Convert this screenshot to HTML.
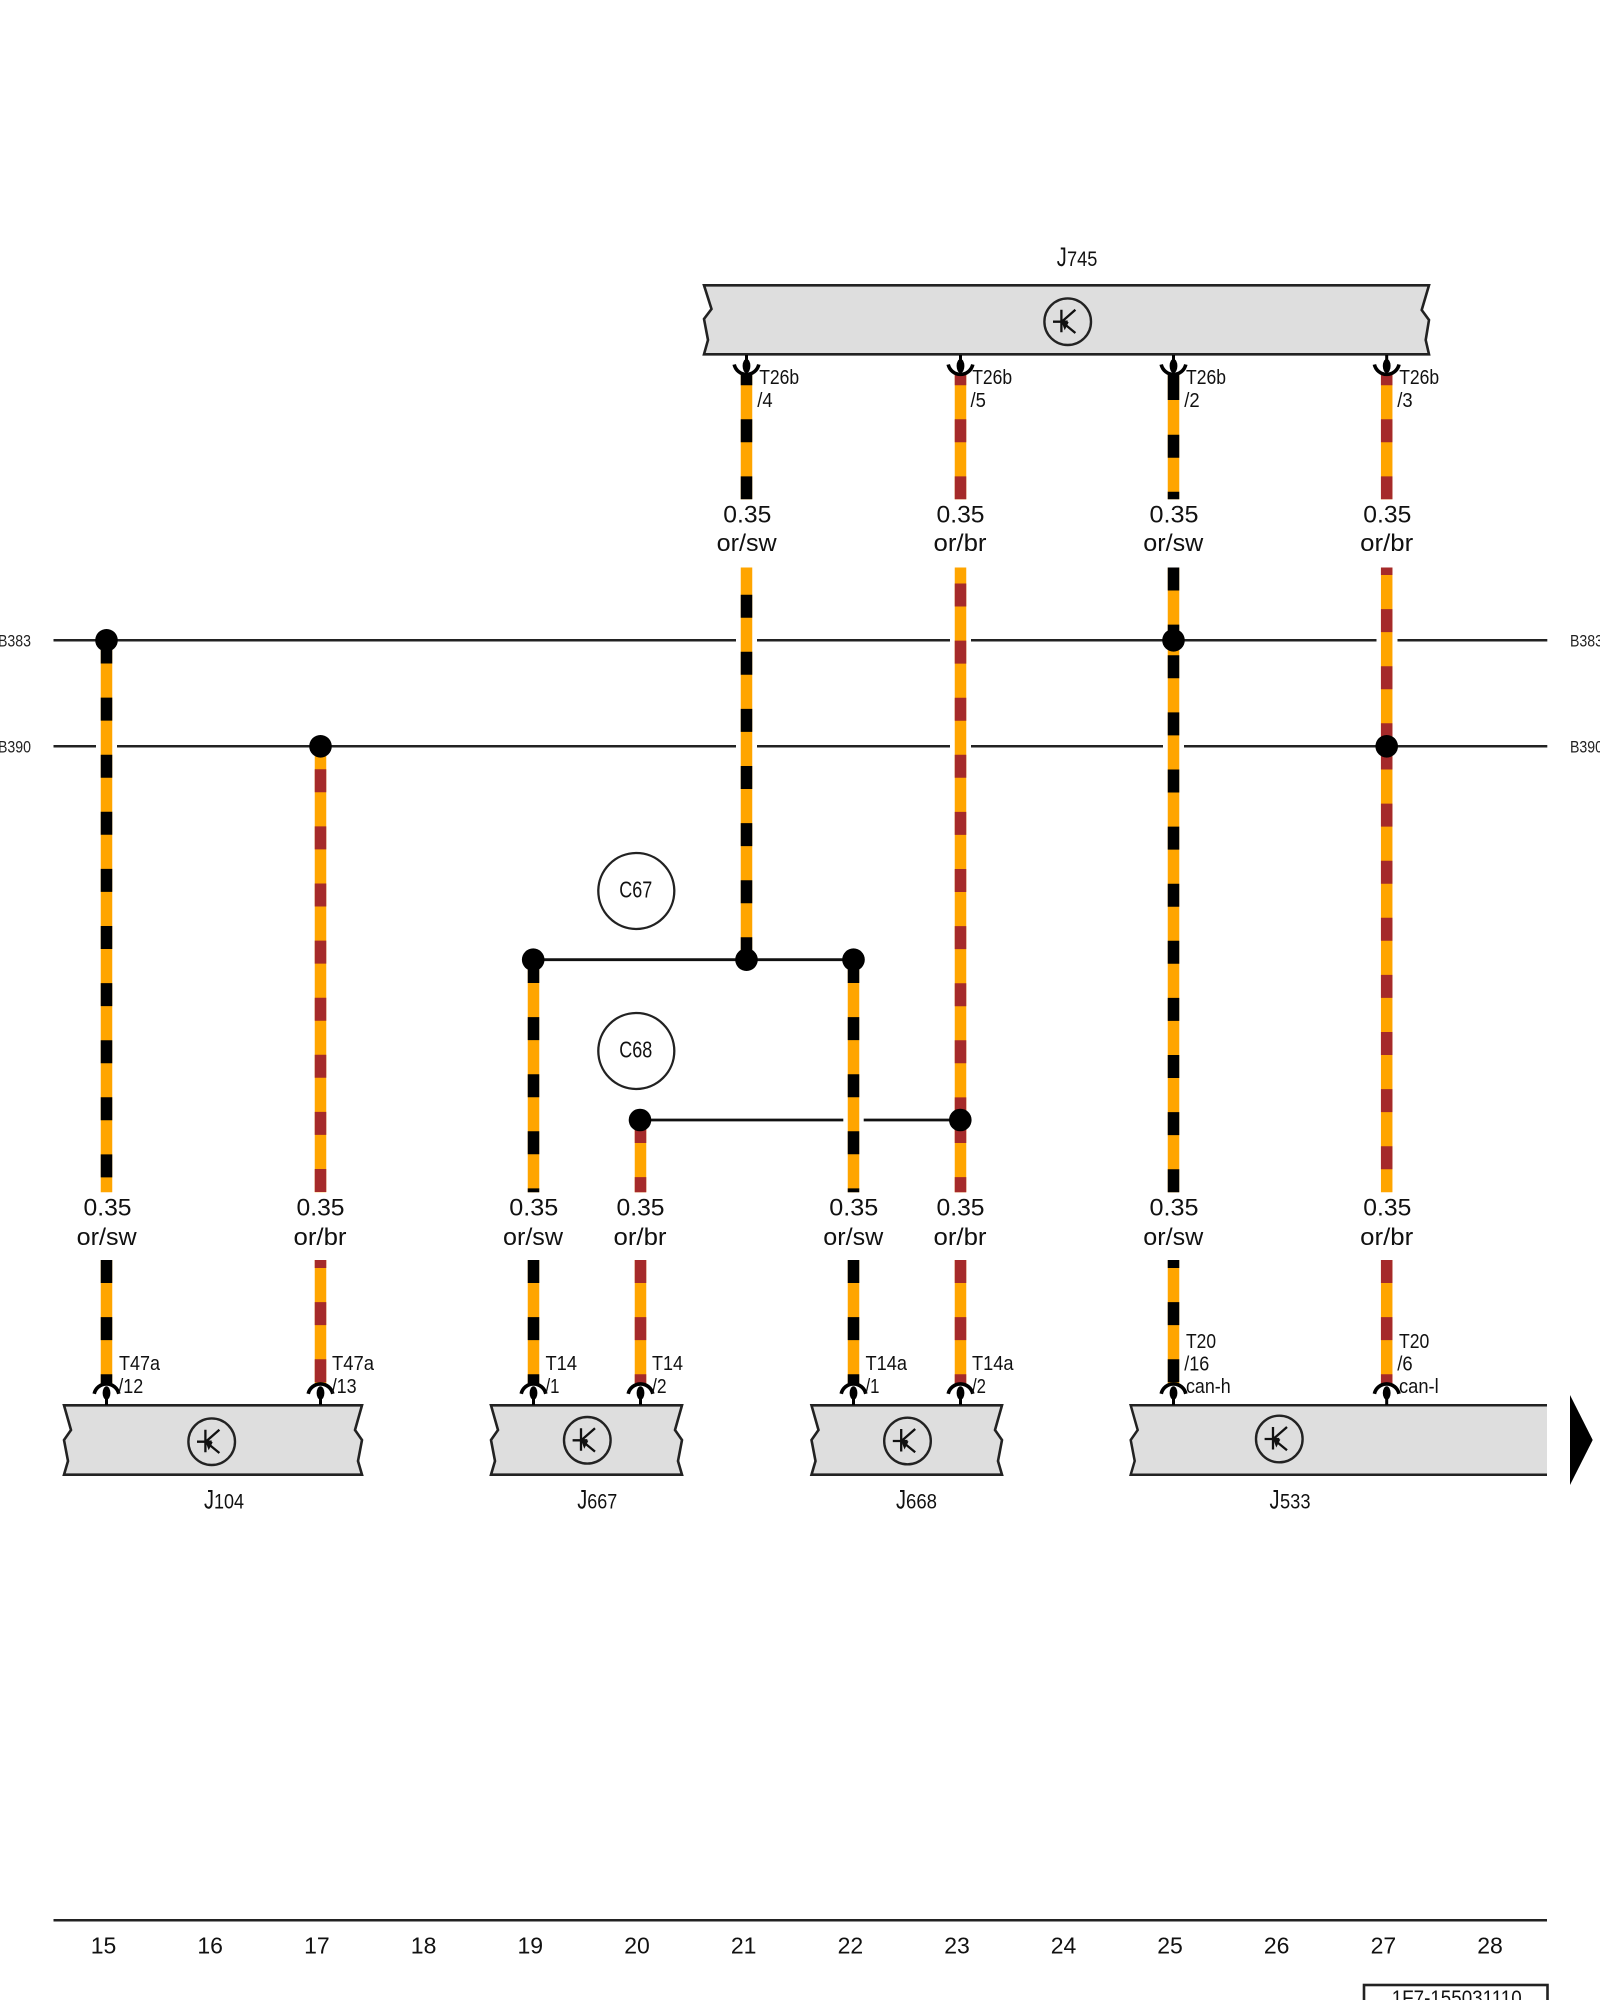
<!DOCTYPE html>
<html><head><meta charset="utf-8"><style>
html,body{margin:0;padding:0;background:#fff;width:1600px;height:2000px;overflow:hidden}
svg{display:block}
text{font-family:"Liberation Sans",sans-serif;fill:#111}
.v{font-size:24px;text-anchor:middle}
.c{font-size:20.5px}
.n{font-size:23px;text-anchor:middle}
.j{font-size:27px}
.d{font-size:21px}
.b{font-size:17px;fill:#222}
.o{fill:none;stroke:#ffa500;stroke-width:11.5}
.k,.r{fill:none;stroke-width:11.5;stroke-dasharray:23 34.1}
.k{stroke:#000}.r{stroke:#a52a2a}
.l{stroke:#222;stroke-width:2.5;fill:none}
.h{stroke:#111;stroke-width:2.8;fill:none}
.box{fill:#dedede;stroke:#222;stroke-width:2.6}
</style></head><body>
<svg width="1600" height="2000" viewBox="0 0 1600 2000" xmlns="http://www.w3.org/2000/svg">
<defs>
<g id="tr">
<circle r="23.3" fill="none" stroke="#222" stroke-width="2.4"/>
<path d="M-14.7 0H0M-6.3-12V10.5M-6 0L7.7-12M-6 0L7.7 11.3" fill="none" stroke="#111" stroke-width="2.3"/>
<path d="M-7-2L1 .5L-3 8.5Z" fill="#111"/>
</g>
<g id="ct">
<path d="M-12.3 364.5A12.6 12.6 0 0 0 12.3 364.5" fill="none" stroke="#000" stroke-width="3.6"/>
<ellipse cx="0" cy="366" rx="3.9" ry="7" fill="#000"/>
<path d="M0 355V362" stroke="#000" stroke-width="3"/>
</g>
<g id="cb">
<path d="M-12.3 1393.8A12.6 12.6 0 0 1 12.3 1393.8" fill="none" stroke="#000" stroke-width="3.6"/>
<ellipse cx="0" cy="1393" rx="3.9" ry="6.8" fill="#000"/>
<path d="M0 1396V1405" stroke="#000" stroke-width="3"/>
</g>
</defs>

<!-- bus lines -->
<path class="l" d="M53.5 640.3H1547.3M53.5 746.3H1547.3"/>
<path class="h" d="M533 959.7H853.5M640 1120H960"/>

<!-- gaps in lines -->
<g fill="#fff">
<rect x="736" y="636" width="21" height="8"/>
<rect x="950" y="636" width="21" height="8"/>
<rect x="1376.5" y="636" width="21" height="8"/>
<rect x="96" y="742" width="21" height="8"/>
<rect x="736" y="742" width="21" height="8"/>
<rect x="950" y="742" width="21" height="8"/>
<rect x="1163" y="742" width="21" height="8"/>
<rect x="843.3" y="1115" width="20.4" height="10"/>
</g>

<!-- wires: column 15 -->
<path class="o" d="M106.5 640V1192.3M106.5 1260V1384"/>
<path class="k" d="M106.5 640.5V1192.3"/>
<path class="k" d="M106.5 1260V1384"/>
<!-- 17 -->
<path class="o" d="M320.5 746.5V1192.3M320.5 1260V1384"/>
<path class="r" style="stroke-dashoffset:34.3" d="M320.5 746.5V1192.3"/>
<path class="r" style="stroke-dashoffset:15" d="M320.5 1260V1384"/>
<!-- 19 -->
<path class="o" d="M533.5 960V1192.3M533.5 1260V1384"/>
<path class="k" d="M533.5 960V1192.3"/>
<path class="k" d="M533.5 1260V1384"/>
<!-- 20 -->
<path class="o" d="M640.5 1120V1192.3M640.5 1260V1384"/>
<path class="r" d="M640.5 1120V1192.3"/>
<path class="r" d="M640.5 1260V1384"/>
<!-- 21 -->
<path class="o" d="M746.5 373V499.3M746.5 567.5V960"/>
<path class="k" style="stroke-dashoffset:10.8" d="M746.5 373V499.3"/>
<path class="k" style="stroke-dashoffset:29.9" d="M746.5 567.5V960"/>
<!-- 22 -->
<path class="o" d="M853.5 960V1192.3M853.5 1260V1384"/>
<path class="k" d="M853.5 960V1192.3"/>
<path class="k" d="M853.5 1260V1384"/>
<!-- 23 -->
<path class="o" d="M960.5 373V499.3M960.5 567.5V1120M960.5 1120V1192.3M960.5 1260V1384"/>
<path class="r" style="stroke-dashoffset:10.8" d="M960.5 373V499.3"/>
<path class="r" style="stroke-dashoffset:41.1" d="M960.5 567.5V1120"/>
<path class="r" d="M960.5 1120V1192.3"/>
<path class="r" d="M960.5 1260V1384"/>
<!-- 25 -->
<path class="o" d="M1173.5 373V499.3M1173.5 567.5V1192.3M1173.5 1260V1384"/>
<path class="k" style="stroke-dasharray:none" d="M1173.5 373V400"/>
<path class="k" style="stroke-dashoffset:0" d="M1173.5 434.7V499.3"/>
<path class="k" d="M1173.5 567.5V640"/>
<path class="k" style="stroke-dashoffset:41.8" d="M1173.5 640V1192.3"/>
<path class="k" style="stroke-dashoffset:15" d="M1173.5 1260V1384"/>
<!-- 27 -->
<path class="o" d="M1386.7 373V499.3M1386.7 567.5V1192.3M1386.7 1260V1384"/>
<path class="r" style="stroke-dashoffset:10.8" d="M1386.7 373V499.3"/>
<path class="r" style="stroke-dashoffset:15.5" d="M1386.7 567.5V747"/>
<path class="r" d="M1386.7 746.5V1192.3"/>
<path class="r" d="M1386.7 1260V1384"/>

<!-- junctions -->
<g fill="#000">
<circle cx="106.5" cy="640.3" r="11.3"/>
<circle cx="320.5" cy="746.3" r="11.3"/>
<circle cx="1173.5" cy="640.3" r="11.3"/>
<circle cx="1386.7" cy="746.3" r="11.3"/>
<circle cx="533.2" cy="959.7" r="11.3"/>
<circle cx="746.5" cy="959.7" r="11.3"/>
<circle cx="853.5" cy="959.7" r="11.3"/>
<circle cx="640" cy="1120" r="11.3"/>
<circle cx="960.3" cy="1120" r="11.3"/>
</g>

<!-- boxes -->
<path class="box" d="M704 285.3H1429L1421.7 310L1429 320L1425.7 340L1429 354.3H704L708 340L704 319L711.5 309Z"/>
<path class="box" d="M64 1405.3H362L355 1430L362 1440L358 1461L362 1474.7H64L68 1461L64 1440L71 1430Z"/>
<path class="box" d="M491 1405.3H682L675 1430L682 1440L678 1461L682 1474.7H491L495 1461L491 1440L498 1430Z"/>
<path class="box" d="M811.5 1405.3H1002L995 1430L1002 1440L998 1461L1002 1474.7H811.5L815.5 1461L811.5 1440L818.5 1430Z"/>
<path fill="#dedede" d="M1130.7 1405.3H1547V1474.7H1130.7L1134.7 1461L1130.7 1440L1137.7 1430Z"/>
<path class="l" d="M1547 1405.3H1130.7L1137.7 1430L1130.7 1440L1134.7 1461L1130.7 1474.7H1547"/>
<path d="M1570 1395V1485L1592.7 1440Z" fill="#000"/>

<use href="#tr" x="1067.7" y="321.7"/>
<use href="#tr" x="211.7" y="1441.7"/>
<use href="#tr" x="587.3" y="1440.3"/>
<use href="#tr" x="907.5" y="1441"/>
<use href="#tr" x="1279.3" y="1439"/>

<!-- connectors -->
<use href="#ct" x="746.5"/><use href="#ct" x="960.5"/><use href="#ct" x="1173.5"/><use href="#ct" x="1386.7"/>
<use href="#cb" x="106.5"/><use href="#cb" x="320.5"/><use href="#cb" x="533.5"/><use href="#cb" x="640.5"/>
<use href="#cb" x="853.5"/><use href="#cb" x="960.5"/><use href="#cb" x="1173.5"/><use href="#cb" x="1386.7"/>

<!-- circles C67 C68 -->
<circle cx="636.3" cy="891" r="38" fill="none" stroke="#222" stroke-width="2.3"/>
<circle cx="636.3" cy="1051" r="38" fill="none" stroke="#222" stroke-width="2.3"/>
<text x="619.3" y="897.5" font-size="23" textLength="33" lengthAdjust="spacingAndGlyphs">C67</text>
<text x="619.3" y="1057.5" font-size="23" textLength="33" lengthAdjust="spacingAndGlyphs">C68</text>

<!-- bus labels -->
<text class="b" x="-2" y="646.7" textLength="33" lengthAdjust="spacingAndGlyphs">B383</text>
<text class="b" x="-2" y="752.7" textLength="33" lengthAdjust="spacingAndGlyphs">B390</text>
<text class="b" x="1570" y="646.7" textLength="33" lengthAdjust="spacingAndGlyphs">B383</text>
<text class="b" x="1570" y="752.7" textLength="33" lengthAdjust="spacingAndGlyphs">B390</text>

<!-- top value labels -->
<g>
<text class="v" x="747.3" y="522.7" textLength="48" lengthAdjust="spacingAndGlyphs">0.35</text>
<text class="v" x="746.7" y="551" textLength="60" lengthAdjust="spacingAndGlyphs">or/sw</text>
<text class="v" x="960.5" y="522.7" textLength="48" lengthAdjust="spacingAndGlyphs">0.35</text>
<text class="v" x="960" y="551" textLength="53" lengthAdjust="spacingAndGlyphs">or/br</text>
<text class="v" x="1174" y="522.7" textLength="49" lengthAdjust="spacingAndGlyphs">0.35</text>
<text class="v" x="1173.3" y="551" textLength="60" lengthAdjust="spacingAndGlyphs">or/sw</text>
<text class="v" x="1387.3" y="522.7" textLength="48" lengthAdjust="spacingAndGlyphs">0.35</text>
<text class="v" x="1386.7" y="551" textLength="53" lengthAdjust="spacingAndGlyphs">or/br</text>
</g>

<!-- bottom value labels -->
<g>
<text class="v" x="107.5" y="1215.7" textLength="48" lengthAdjust="spacingAndGlyphs">0.35</text>
<text class="v" x="106.7" y="1245" textLength="60" lengthAdjust="spacingAndGlyphs">or/sw</text>
<text class="v" x="320.5" y="1215.7" textLength="48" lengthAdjust="spacingAndGlyphs">0.35</text>
<text class="v" x="320" y="1245" textLength="53" lengthAdjust="spacingAndGlyphs">or/br</text>
<text class="v" x="533.8" y="1215.7" textLength="49" lengthAdjust="spacingAndGlyphs">0.35</text>
<text class="v" x="533" y="1245" textLength="60" lengthAdjust="spacingAndGlyphs">or/sw</text>
<text class="v" x="640.5" y="1215.7" textLength="48" lengthAdjust="spacingAndGlyphs">0.35</text>
<text class="v" x="640" y="1245" textLength="53" lengthAdjust="spacingAndGlyphs">or/br</text>
<text class="v" x="853.8" y="1215.7" textLength="49" lengthAdjust="spacingAndGlyphs">0.35</text>
<text class="v" x="853.3" y="1245" textLength="60" lengthAdjust="spacingAndGlyphs">or/sw</text>
<text class="v" x="960.5" y="1215.7" textLength="48" lengthAdjust="spacingAndGlyphs">0.35</text>
<text class="v" x="960" y="1245" textLength="53" lengthAdjust="spacingAndGlyphs">or/br</text>
<text class="v" x="1174" y="1215.7" textLength="49" lengthAdjust="spacingAndGlyphs">0.35</text>
<text class="v" x="1173.3" y="1245" textLength="60" lengthAdjust="spacingAndGlyphs">or/sw</text>
<text class="v" x="1387.3" y="1215.7" textLength="48" lengthAdjust="spacingAndGlyphs">0.35</text>
<text class="v" x="1386.7" y="1245" textLength="53" lengthAdjust="spacingAndGlyphs">or/br</text>
</g>

<!-- connector labels -->
<g>
<text class="c" x="759.2" y="384.2" textLength="40" lengthAdjust="spacingAndGlyphs">T26b</text>
<text class="c" x="757.3" y="407" textLength="15.4" lengthAdjust="spacingAndGlyphs">/4</text>
<text class="c" x="972.2" y="384.2" textLength="40" lengthAdjust="spacingAndGlyphs">T26b</text>
<text class="c" x="970.5" y="407" textLength="15.4" lengthAdjust="spacingAndGlyphs">/5</text>
<text class="c" x="1186" y="384.2" textLength="40" lengthAdjust="spacingAndGlyphs">T26b</text>
<text class="c" x="1184.3" y="407" textLength="15.4" lengthAdjust="spacingAndGlyphs">/2</text>
<text class="c" x="1399.2" y="384.2" textLength="40" lengthAdjust="spacingAndGlyphs">T26b</text>
<text class="c" x="1397.3" y="407" textLength="15.4" lengthAdjust="spacingAndGlyphs">/3</text>

<text class="c" x="119" y="1370" textLength="41" lengthAdjust="spacingAndGlyphs">T47a</text>
<text class="c" x="118.3" y="1393" textLength="25" lengthAdjust="spacingAndGlyphs">/12</text>
<text class="c" x="332" y="1370" textLength="42" lengthAdjust="spacingAndGlyphs">T47a</text>
<text class="c" x="331.7" y="1393" textLength="25" lengthAdjust="spacingAndGlyphs">/13</text>
<text class="c" x="545.5" y="1370" textLength="31.5" lengthAdjust="spacingAndGlyphs">T14</text>
<text class="c" x="545.5" y="1393" textLength="14" lengthAdjust="spacingAndGlyphs">/1</text>
<text class="c" x="652" y="1370" textLength="31" lengthAdjust="spacingAndGlyphs">T14</text>
<text class="c" x="652" y="1393" textLength="14.6" lengthAdjust="spacingAndGlyphs">/2</text>
<text class="c" x="865.5" y="1370" textLength="41.5" lengthAdjust="spacingAndGlyphs">T14a</text>
<text class="c" x="865.5" y="1393" textLength="14" lengthAdjust="spacingAndGlyphs">/1</text>
<text class="c" x="972" y="1370" textLength="41.5" lengthAdjust="spacingAndGlyphs">T14a</text>
<text class="c" x="972" y="1393" textLength="14" lengthAdjust="spacingAndGlyphs">/2</text>
<text class="c" x="1186" y="1348" textLength="30" lengthAdjust="spacingAndGlyphs">T20</text>
<text class="c" x="1184.3" y="1370.3" textLength="25" lengthAdjust="spacingAndGlyphs">/16</text>
<text class="c" x="1186" y="1393" textLength="44.7" lengthAdjust="spacingAndGlyphs">can-h</text>
<text class="c" x="1399" y="1348" textLength="30.3" lengthAdjust="spacingAndGlyphs">T20</text>
<text class="c" x="1397.3" y="1370.3" textLength="15.4" lengthAdjust="spacingAndGlyphs">/6</text>
<text class="c" x="1399" y="1393" textLength="39.7" lengthAdjust="spacingAndGlyphs">can-l</text>
</g>

<!-- J labels -->
<g>
<text class="j" x="1056.7" y="266" textLength="10" lengthAdjust="spacingAndGlyphs">J</text><text class="d" x="1067" y="266" textLength="30.3" lengthAdjust="spacingAndGlyphs">745</text>
<text class="j" x="204" y="1508.5" textLength="10" lengthAdjust="spacingAndGlyphs">J</text><text class="d" x="214" y="1508.5" textLength="30" lengthAdjust="spacingAndGlyphs">104</text>
<text class="j" x="577.3" y="1508.5" textLength="10" lengthAdjust="spacingAndGlyphs">J</text><text class="d" x="587.3" y="1508.5" textLength="30" lengthAdjust="spacingAndGlyphs">667</text>
<text class="j" x="896" y="1508.5" textLength="10" lengthAdjust="spacingAndGlyphs">J</text><text class="d" x="906" y="1508.5" textLength="31" lengthAdjust="spacingAndGlyphs">668</text>
<text class="j" x="1269.5" y="1508.5" textLength="10" lengthAdjust="spacingAndGlyphs">J</text><text class="d" x="1280" y="1508.5" textLength="30.5" lengthAdjust="spacingAndGlyphs">533</text>
</g>

<!-- footer -->
<path class="l" d="M53.5 1920.3H1547"/>
<g>
<text class="n" x="103.5" y="1953.5">15</text>
<text class="n" x="210.2" y="1953.5">16</text>
<text class="n" x="316.9" y="1953.5">17</text>
<text class="n" x="423.6" y="1953.5">18</text>
<text class="n" x="530.3" y="1953.5">19</text>
<text class="n" x="637" y="1953.5">20</text>
<text class="n" x="743.7" y="1953.5">21</text>
<text class="n" x="850.4" y="1953.5">22</text>
<text class="n" x="957" y="1953.5">23</text>
<text class="n" x="1063.5" y="1953.5">24</text>
<text class="n" x="1170" y="1953.5">25</text>
<text class="n" x="1276.7" y="1953.5">26</text>
<text class="n" x="1383.4" y="1953.5">27</text>
<text class="n" x="1490" y="1953.5">28</text>
</g>
<rect x="1364" y="1985" width="183.5" height="30" fill="#fff" stroke="#222" stroke-width="2.6"/>
<text x="1391.7" y="2005" font-size="21" textLength="130" lengthAdjust="spacingAndGlyphs">1F7-155031110</text>
</svg>
</body></html>
